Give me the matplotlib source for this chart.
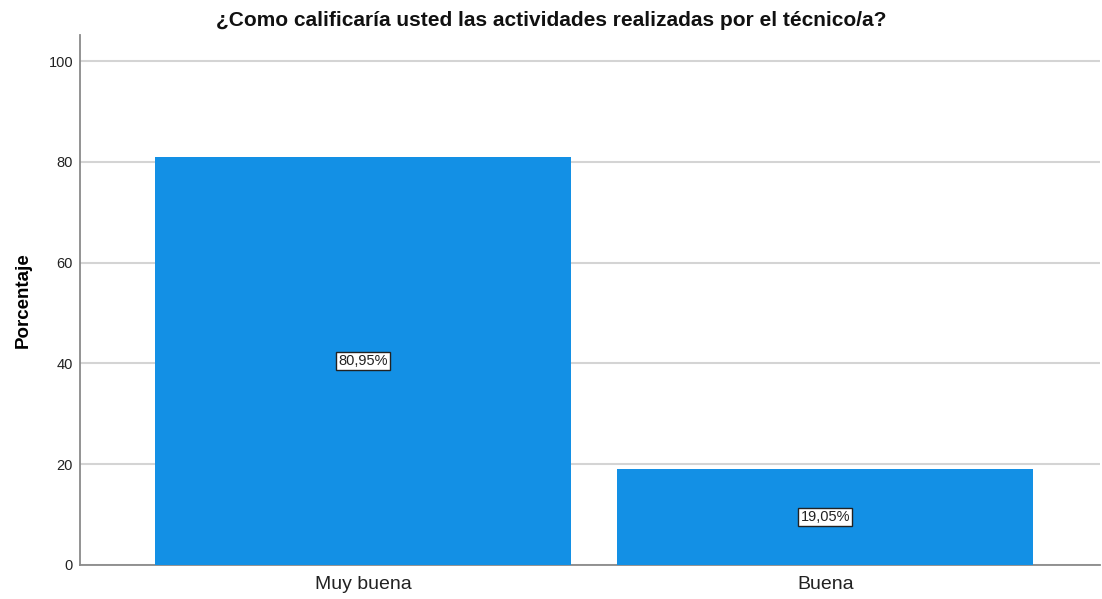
import matplotlib
matplotlib.use("Agg")
import matplotlib.pyplot as plt

plt.rcParams.update({
    "font.family": ["Liberation Sans", "DejaVu Sans"],
})

# ---- data ----
categories = ["Muy buena", "Buena"]
percent = [80.95, 19.05]
labels = ["80,95%", "19,05%"]

BAR = "#1390e5"
GRID = "#d4d4d4"
AXIS = "#8a8a8a"

fig = plt.figure(figsize=(11.02, 5.99), dpi=100)
ax = fig.add_axes([0.0726, 0.0568, 0.9256, 0.8848])

x = range(len(categories))
ax.bar(x, percent, width=0.9, color=BAR, zorder=3)

for xi, v, lab in zip(x, percent, labels):
    ax.text(xi, v / 2, lab, ha="center", va="center", fontsize=10.5, color="#222222", zorder=5,
            bbox=dict(boxstyle="square,pad=0.15", fc="white", ec="#222222", lw=1))

ax.set_xlim(-0.612, 1.594)
ax.set_ylim(0, 105.2)
ax.set_yticks([0, 20, 40, 60, 80, 100])
ax.set_xticks(list(x))
ax.set_xticklabels(categories, fontsize=14, color="#222222")
ax.tick_params(axis="y", length=0, labelsize=10.5, pad=5, labelcolor="#222222")
ax.tick_params(axis="x", length=0, pad=8)
ax.yaxis.grid(True, color=GRID, lw=1.5, zorder=0)

for s in ("top", "right"):
    ax.spines[s].set_visible(False)
for s in ("left", "bottom"):
    ax.spines[s].set_color(AXIS)
    ax.spines[s].set_linewidth(1.3)

ax.set_ylabel("Porcentaje", fontsize=13.5, fontweight="bold", labelpad=12)
fig.text(0.5, 0.966, "¿Como calificaría usted las actividades realizadas por el técnico/a?",
         ha="center", va="center", fontsize=15, fontweight="bold", color="#111111")

fig.savefig("out.png", dpi=100, facecolor="white")
